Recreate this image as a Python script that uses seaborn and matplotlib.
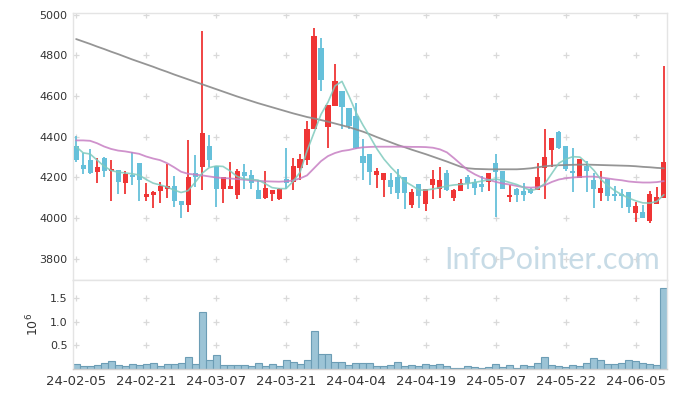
import numpy as np
import pandas as pd
import matplotlib
matplotlib.use("Agg")
import matplotlib.pyplot as plt
import seaborn as sns

# tick labels, one every 10 trading days
TICK_POS = [0, 10, 20, 30, 40, 50, 60, 70, 80]
TICK_LABELS = ["24-02-05", "24-02-21", "24-03-07", "24-03-21", "24-04-04",
               "24-04-19", "24-05-07", "24-05-22", "24-06-05"]

OPEN = [4355, 4260, 4285, 4225, 4295, 4230, 4235, 4175, 4210, 4270,
        4105, 4115, 4135, 4145, 4160, 4085, 4065, 4220, 4250, 4355,
        4255, 4145, 4145, 4115, 4225, 4210, 4140, 4100, 4120, 4095,
        4190, 4180, 4245, 4285, 4440, 4835, 4450, 4550, 4625, 4540,
        4500, 4305, 4315, 4210, 4185, 4185, 4200, 4200, 4065, 4170,
        4070, 4165, 4145, 4220, 4100, 4135, 4200, 4180, 4170, 4180,
        4270, 4230, 4105, 4145, 4135, 4145, 4140, 4245, 4335, 4425,
        4355, 4230, 4195, 4255, 4185, 4125, 4190, 4120, 4120, 4130,
        4025, 4030, 3985, 4070, 4100]
HIGH = [4405, 4320, 4340, 4295, 4300, 4285, 4235, 4230, 4325, 4270,
        4175, 4135, 4180, 4265, 4205, 4085, 4385, 4310, 4920, 4410,
        4255, 4200, 4275, 4240, 4265, 4235, 4185, 4230, 4140, 4150,
        4345, 4295, 4315, 4475, 4935, 4885, 4555, 4755, 4625, 4540,
        4565, 4390, 4315, 4245, 4220, 4220, 4240, 4200, 4145, 4170,
        4145, 4235, 4250, 4235, 4145, 4190, 4210, 4190, 4205, 4220,
        4315, 4230, 4165, 4150, 4175, 4150, 4270, 4440, 4395, 4430,
        4355, 4345, 4290, 4280, 4220, 4230, 4190, 4160, 4145, 4130,
        4080, 4065, 4135, 4155, 4750]
LOW = [4275, 4215, 4215, 4175, 4200, 4085, 4120, 4120, 4165, 4085,
       4085, 4050, 4075, 4100, 4055, 4000, 4030, 4155, 4140, 4250,
       4055, 4075, 4145, 4095, 4145, 4145, 4095, 4095, 4085, 4090,
       4145, 4140, 4185, 4260, 4440, 4625, 4345, 4550, 4440, 4440,
       4340, 4185, 4165, 4150, 4105, 4120, 4095, 4045, 4050, 4050,
       4035, 4095, 4100, 4135, 4085, 4135, 4145, 4115, 4130, 4135,
       4005, 4145, 4080, 4080, 4085, 4120, 4140, 4095, 4250, 4340,
       4230, 4130, 4195, 4130, 4050, 4085, 4085, 4085, 4050, 4025,
       3980, 4000, 3975, 4070, 4100]
CLOSE = [4285, 4240, 4220, 4250, 4230, 4240, 4180, 4215, 4200, 4185,
         4120, 4130, 4160, 4160, 4085, 4065, 4200, 4200, 4420, 4285,
         4145, 4200, 4160, 4230, 4205, 4175, 4095, 4150, 4140, 4145,
         4175, 4255, 4290, 4440, 4895, 4680, 4555, 4675, 4545, 4455,
         4345, 4270, 4225, 4230, 4220, 4155, 4125, 4125, 4130, 4110,
         4145, 4190, 4185, 4140, 4140, 4175, 4175, 4150, 4155, 4220,
         4225, 4145, 4115, 4115, 4115, 4125, 4200, 4300, 4395, 4345,
         4240, 4220, 4290, 4230, 4145, 4150, 4110, 4110, 4110, 4055,
         4060, 4000, 4120, 4105, 4275]

# volume in millions of shares
VOLUME = [0.105, 0.063, 0.063, 0.084, 0.126, 0.168, 0.084, 0.063, 0.105, 0.084,
          0.105, 0.126, 0.063, 0.105, 0.105, 0.126, 0.252, 0.105, 1.197, 0.189,
          0.294, 0.084, 0.084, 0.084, 0.084, 0.063, 0.126, 0.063, 0.105, 0.063,
          0.189, 0.147, 0.105, 0.189, 0.798, 0.315, 0.315, 0.147, 0.147, 0.084,
          0.126, 0.126, 0.126, 0.063, 0.063, 0.084, 0.147, 0.063, 0.084, 0.063,
          0.105, 0.084, 0.105, 0.063, 0.021, 0.021, 0.063, 0.042, 0.021, 0.042,
          0.105, 0.042, 0.084, 0.021, 0.084, 0.063, 0.126, 0.252, 0.084, 0.063,
          0.042, 0.084, 0.063, 0.126, 0.231, 0.189, 0.105, 0.105, 0.126, 0.189,
          0.168, 0.126, 0.105, 0.084, 1.70]

MA5 = [4351, 4321, 4315, 4285, 4255, 4234, 4226, 4222, 4218, 4212,
       4190, 4172, 4163, 4153, 4138, 4126, 4135, 4175, 4220, 4248,
       4256, 4254, 4232, 4205, 4193, 4190, 4187, 4170, 4150, 4145,
       4145, 4180, 4225, 4330, 4420, 4510, 4570, 4650, 4672, 4600,
       4520, 4457, 4400, 4340, 4290, 4250, 4215, 4180, 4160, 4138,
       4138, 4143, 4150, 4158, 4163, 4166, 4170, 4176, 4182, 4188,
       4192, 4185, 4175, 4165, 4150, 4135, 4145, 4170, 4220, 4270,
       4290, 4302, 4300, 4270, 4235, 4190, 4160, 4135, 4115, 4098,
       4085, 4075, 4074, 4082, 4115]
MA20 = [4382, 4382, 4380, 4368, 4352, 4340, 4332, 4328, 4322, 4316,
        4303, 4293, 4285, 4270, 4250, 4228, 4218, 4214, 4210, 4205,
        4200, 4197, 4195, 4192, 4189, 4186, 4183, 4181, 4180, 4179,
        4181, 4185, 4195, 4210, 4245, 4280, 4305, 4320, 4330, 4335,
        4343, 4348, 4350, 4351, 4351, 4351, 4351, 4351, 4350, 4350,
        4349, 4346, 4338, 4323, 4295, 4265, 4235, 4215, 4199, 4188,
        4178, 4170, 4165, 4158, 4152, 4150, 4152, 4162, 4178, 4190,
        4196, 4200, 4202, 4204, 4204, 4200, 4195, 4190, 4186, 4180,
        4177, 4175, 4175, 4177, 4182]
MA120 = [4880, 4868, 4856, 4843, 4831, 4818, 4806, 4793, 4780, 4768,
         4756, 4744, 4731, 4719, 4706, 4694, 4682, 4670, 4658, 4646,
         4634, 4622, 4610, 4598, 4587, 4576, 4565, 4555, 4545, 4535,
         4525, 4515, 4506, 4497, 4490, 4482, 4474, 4465, 4456, 4447,
         4436, 4425, 4412, 4398, 4385, 4372, 4359, 4348, 4336, 4325,
         4314, 4302, 4290, 4278, 4265, 4252, 4245, 4242, 4241, 4240,
         4240, 4240, 4240, 4240, 4242, 4245, 4250, 4255, 4258, 4260,
         4261, 4262, 4263, 4263, 4262, 4261, 4260, 4259, 4258, 4257,
         4255, 4252, 4250, 4247, 4245]

UP_COLOR = "#ef3535"
DOWN_COLOR = "#66c0da"
GRID_COLOR = "#d9d9d9"
SPINE_COLOR = "#e4e4e4"
TEXT_COLOR = "#333333"

sns.set_style("white")
plt.rcParams['font.family'] = ['DejaVu Sans']

df = pd.DataFrame({
    "open": OPEN, "high": HIGH, "low": LOW, "close": CLOSE,
    "volume": VOLUME, "ma5": MA5, "ma20": MA20, "ma120": MA120,
})
df["idx"] = np.arange(len(df))
df["up"] = df["close"] >= df["open"]
df["color"] = np.where(df["up"], UP_COLOR, DOWN_COLOR)

fig = plt.figure(figsize=(6.77, 3.98), dpi=100)
ax = fig.add_axes([0.1078, 0.2965, 0.8774, 0.6708])
axv = fig.add_axes([0.1078, 0.0729, 0.8774, 0.2236])

# grid drawn as small crosses at tick intersections
price_ticks = np.arange(3800, 5001, 200)
gx, gy = np.meshgrid(TICK_POS, price_ticks)
ax.plot(gx.ravel(), gy.ravel(), "+", color=GRID_COLOR, ms=5, mew=0.9, zorder=0)
vol_ticks = [0.5, 1.0, 1.5]
gx, gy = np.meshgrid(TICK_POS, vol_ticks)
axv.plot(gx.ravel(), gy.ravel(), "+", color=GRID_COLOR, ms=5, mew=0.9, zorder=0)

# watermark
ax.text(0.988, 0.04, "InfoPointer.com", transform=ax.transAxes, ha="right",
        va="baseline", fontsize=22, family=["Lato", "DejaVu Sans"],
        color="#c7dbe6", zorder=0.5)

# candles
ax.vlines(df["idx"], df["low"], df["high"], colors=df["color"], lw=1.3, zorder=2)
body_low = df[["open", "close"]].min(axis=1)
body_h = (df["close"] - df["open"]).abs().clip(lower=5)
ax.bar(df["idx"], body_h, bottom=body_low, width=0.72, color=df["color"],
       linewidth=0, zorder=3)

# moving averages
sns.lineplot(data=df, x="idx", y="ma120", ax=ax, color="#8a8a8a", lw=1.3,
             alpha=0.9, zorder=4)
sns.lineplot(data=df, x="idx", y="ma20", ax=ax, color="#c77fc3", lw=1.3,
             alpha=0.85, zorder=4)
sns.lineplot(data=df, x="idx", y="ma5", ax=ax, color="#7fcabd", lw=1.2,
             alpha=0.85, zorder=4)

ax.set_xlim(-0.45, 84.45)
ax.set_ylim(3696, 5008)
ax.set_yticks(price_ticks)
ax.set_xticks(TICK_POS)
ax.tick_params(labelbottom=False, length=0, labelsize=8, labelcolor=TEXT_COLOR, pad=4)
ax.set_xlabel("")
ax.set_ylabel("")

# volume
sns.barplot(data=df, x="idx", y="volume", ax=axv, native_scale=True, width=1.0,
            color="#9cc4d6", edgecolor="#6c9db5", linewidth=0.8, saturation=1)
axv.set_xlim(-0.45, 84.45)
axv.set_ylim(0, 1.876)
axv.set_yticks(vol_ticks)
axv.set_yticklabels(["0.5", "1.0", "1.5"])
axv.set_xticks(TICK_POS)
axv.set_xticklabels(TICK_LABELS)
axv.tick_params(axis="y", length=0, labelsize=8, labelcolor=TEXT_COLOR, pad=4)
axv.tick_params(axis="x", length=0, labelsize=9.5, labelcolor=TEXT_COLOR, pad=4)
axv.set_xlabel("")
axv.set_ylabel(r"$10^6$", fontsize=9, color=TEXT_COLOR, labelpad=6)

for a in (ax, axv):
    for s in a.spines.values():
        s.set_color(SPINE_COLOR)
        s.set_linewidth(1)
axv.spines["bottom"].set_color("#cfcfcf")

fig.savefig("out.png", dpi=100)
